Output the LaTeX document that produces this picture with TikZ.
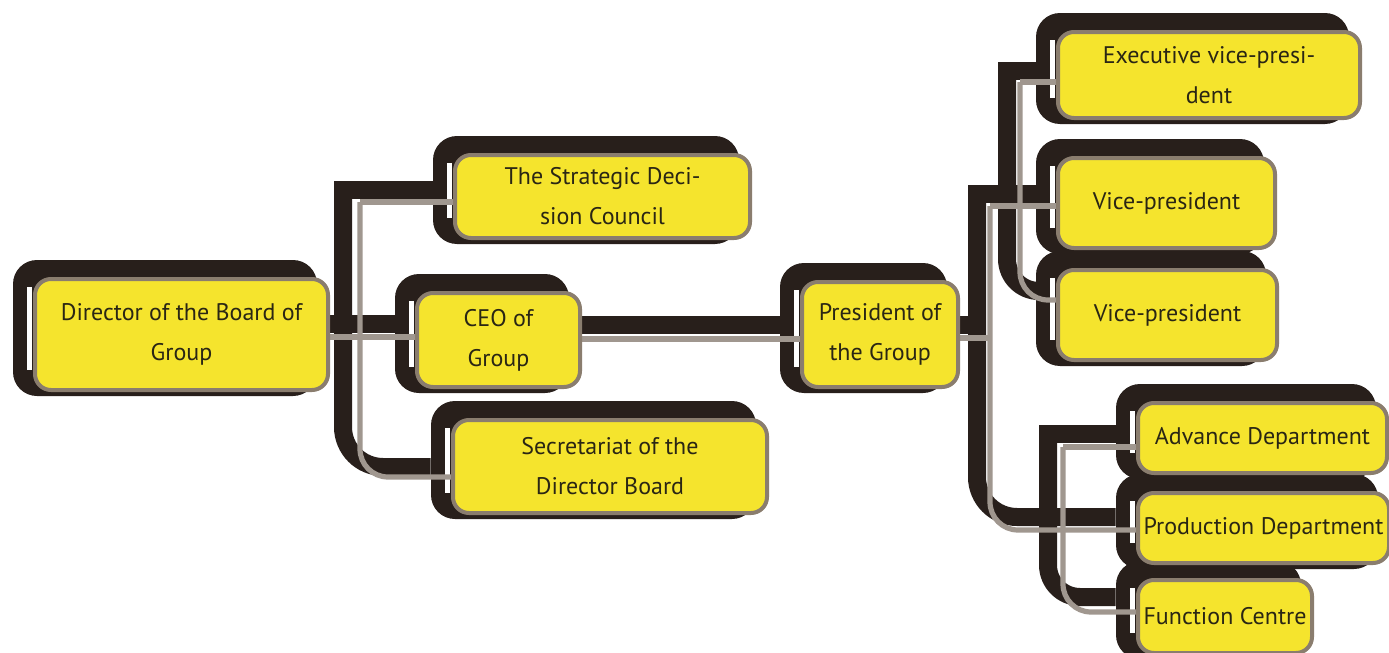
\documentclass[tikz,border=0pt]{standalone}
\usepackage{fontspec}
\setmainfont{PT Sans}
\pgfdeclarelayer{back}
\pgfdeclarelayer{bg}
\pgfdeclarelayer{mid}
\pgfsetlayers{back,bg,mid,main}
\definecolor{shadowc}{RGB}{40,31,27}
\definecolor{yellowc}{RGB}{245,228,45}
\definecolor{borderc}{RGB}{138,125,110}
\definecolor{grayc}{RGB}{160,151,143}
\definecolor{textc}{RGB}{42,38,20}
\tikzset{
  sbox/.style={rectangle, rounded corners=12pt, fill=shadowc, inner sep=0pt},
  ybox/.style={rectangle, rounded corners=8pt, fill=yellowc, draw=borderc, line width=2pt,
    text=textc, align=center, inner sep=1pt, font=\fontsize{12}{20}\selectfont},
  wstrip/.style={white, line width=2.5pt},
  dline/.style={shadowc, line width=9pt},
  gline/.style={grayc, line width=2.6pt},
}
\newcommand\orgbox[6]{%
  \begin{pgfonlayer}{bg}
  \node[sbox, minimum width={(#4-#2+11)*0.5pt}, minimum height={(#5-#3+25)*0.5pt}] (#1s) at ({(#2+#4)/2-16.5},{(#3+#5)/2-6.5}) {};
  \end{pgfonlayer}
  \node[ybox, minimum width={(#4-#2)*0.5pt}, minimum height={(#5-#3)*0.5pt}] (#1) at ({(#2+#4)/2},{(#3+#5)/2}) {#6};
  \begin{pgfonlayer}{mid}
  \draw[wstrip] ([shift={(-4,10)}]#1.north west) -- ([shift={(-4,-22)}]#1.south west);
  \end{pgfonlayer}
}
\begin{document}
\begin{tikzpicture}[x=0.5pt,y=-0.5pt]
\begin{pgfonlayer}{back}
\fill[white] (0,0) rectangle (1389,653);
\end{pgfonlayer}
\useasboundingbox (0,0) rectangle (1389,653);
% boxes
\orgbox{dir}{35}{279}{328}{390}{Director of the Board of\\Group}
\orgbox{sdc}{455}{155}{750}{238}{The Strategic Deci-\\sion Council}
\orgbox{ceo}{417}{293}{580}{387}{CEO of\\Group}
\orgbox{sec}{453}{420}{767}{513}{Secretariat of the\\Director Board}
\orgbox{pres}{802}{282}{958}{387}{President of\\the Group}
\orgbox{evp}{1058}{32}{1360}{118}{Executive vice-presi-\\dent}
\orgbox{vpa}{1058}{158}{1275}{248}{Vice-president}
\orgbox{vpb}{1058}{270}{1277}{360}{Vice-president}
\orgbox{adv}{1138}{403}{1387}{473}{Advance Department}
\orgbox{prod}{1138}{493}{1389}{563}{Production Department}
\orgbox{func}{1138}{580}{1312}{653}{Function Centre}
% dark connectors
\begin{pgfonlayer}{bg}
\draw[dline] (sdcs.west |- 0,190) -- (343,190);
\draw[dline, rounded corners=20pt] (343,181) -- (343,467) -- (secs.west |- 0,467);
\draw[dline] (dir.east |- 0,324) -- (ceos.west |- 0,324);
\draw[dline] (ceo.east |- 0,325) -- (press.west |- 0,325);
\draw[dline] (pres.east |- 0,325) -- (977,325);
\draw[dline] (vpas.west |- 0,194) -- (977,194);
\draw[dline, rounded corners=20pt] (977,185) -- (977,517) -- (prods.west |- 0,517);
\draw[dline] (evps.west |- 0,71) -- (1007,71);
\draw[dline, rounded corners=16pt] (1007,62) -- (1007,291) -- (vpbs.west |- 0,291);
\draw[dline] (advs.west |- 0,434) -- (1048,434);
\draw[dline, rounded corners=16pt] (1048,425) -- (1048,597) -- (funcs.west |- 0,597);
\end{pgfonlayer}
% gray connectors
\begin{pgfonlayer}{mid}
\draw[gline] (sdc.west |- 0,202) -- (360,202);
\draw[gline, rounded corners=14pt] (360,202) -- (360,477) -- (sec.west |- 0,477);
\draw[gline] (dir.east |- 0,337) -- (ceo.west |- 0,337);
\draw[gline] (ceo.east |- 0,339) -- (pres.west |- 0,339);
\draw[gline] (pres.east |- 0,338) -- (990,338);
\draw[gline] (vpa.west |- 0,206) -- (990,206);
\draw[gline, rounded corners=14pt] (990,206) -- (990,530) -- (prod.west |- 0,530);
\draw[gline] (evp.west |- 0,82) -- (1020,82);
\draw[gline, rounded corners=14pt] (1020,82) -- (1020,300) -- (vpb.west |- 0,300);
\draw[gline] (adv.west |- 0,447) -- (1063,447);
\draw[gline, rounded corners=14pt] (1063,447) -- (1063,612) -- (func.west |- 0,612);
\end{pgfonlayer}
\end{tikzpicture}
\end{document}
